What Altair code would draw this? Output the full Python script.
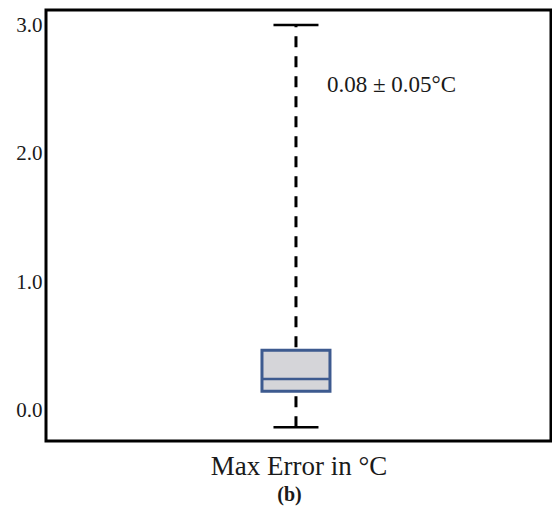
import altair as alt
import pandas as pd

categories = ["Max Error in °C"]
lower_whisker = [-0.13]
q1 = [0.15]
median = [0.245]
q3 = [0.47]
upper_whisker = [3.0]
y_ticks = [0.0, 1.0, 2.0, 3.0]
annotation = ["0.08 ± 0.05°C"]
annotation_y = [2.48]

df = pd.DataFrame({
    "cat": categories,
    "lo": lower_whisker,
    "q1": q1,
    "med": median,
    "q3": q3,
    "hi": upper_whisker,
    "label": annotation,
    "ly": annotation_y,
})

FONT = "Liberation Serif"
BLUE = "#3d5a8f"

xenc = alt.X("cat:N",
             scale=alt.Scale(paddingInner=0, paddingOuter=0.5, align=0.49),
             axis=alt.Axis(labels=False, ticks=False, domain=False, grid=False,
                           title="Max Error in °C", titleFont=FONT, titleFontSize=27,
                           titleFontWeight="normal", titleColor="#1a1a1a", titlePadding=12))
yscale = alt.Scale(domain=[-0.237, 3.117], nice=False, zero=False)
yaxis = alt.Axis(values=y_ticks, format=".1f", ticks=False, domain=False, grid=False,
                 labelFont=FONT, labelFontSize=21, labelColor="#1a1a1a", labelPadding=4,
                 title=None)

base = alt.Chart(df)

whisker = base.mark_rule(color="black", strokeWidth=3, strokeDash=[11, 9]).encode(
    x=xenc, y=alt.Y("lo:Q", scale=yscale, axis=yaxis), y2="hi:Q")

box = base.mark_bar(size=68, fill="#d5d5d9", stroke=BLUE, strokeWidth=3).encode(
    x=xenc, y=alt.Y("q1:Q", scale=yscale, axis=yaxis), y2="q3:Q")

med = base.mark_tick(size=66, thickness=2.5, color=BLUE, opacity=1).encode(
    x=xenc, y=alt.Y("med:Q", scale=yscale, axis=yaxis))

cap_lo = base.mark_tick(size=45, thickness=2.5, color="black", opacity=1).encode(
    x=xenc, y=alt.Y("lo:Q", scale=yscale, axis=yaxis))
cap_hi = base.mark_tick(size=45, thickness=2.5, color="black", opacity=1).encode(
    x=xenc, y=alt.Y("hi:Q", scale=yscale, axis=yaxis))

text = base.mark_text(align="left", baseline="alphabetic", dx=31, font=FONT,
                      fontSize=23, color="#1a1a1a").encode(
    x=xenc, y=alt.Y("ly:Q", scale=yscale, axis=yaxis), text="label:N")

chart = alt.layer(whisker, box, med, cap_lo, cap_hi, text).properties(
    width=505, height=431,
    background="white",
    title=alt.TitleParams("(b)", orient="bottom", font=FONT, fontSize=20,
                          fontWeight="bold", color="#1a1a1a", dx=-9, offset=6),
    autosize=alt.AutoSizeParams(type="none"),
    padding={"left": 38, "top": 2, "right": 1, "bottom": 66},
).configure_view(stroke="black", strokeWidth=3)

chart.save("out.html", embed_options={"renderer": "svg", "actions": False})
